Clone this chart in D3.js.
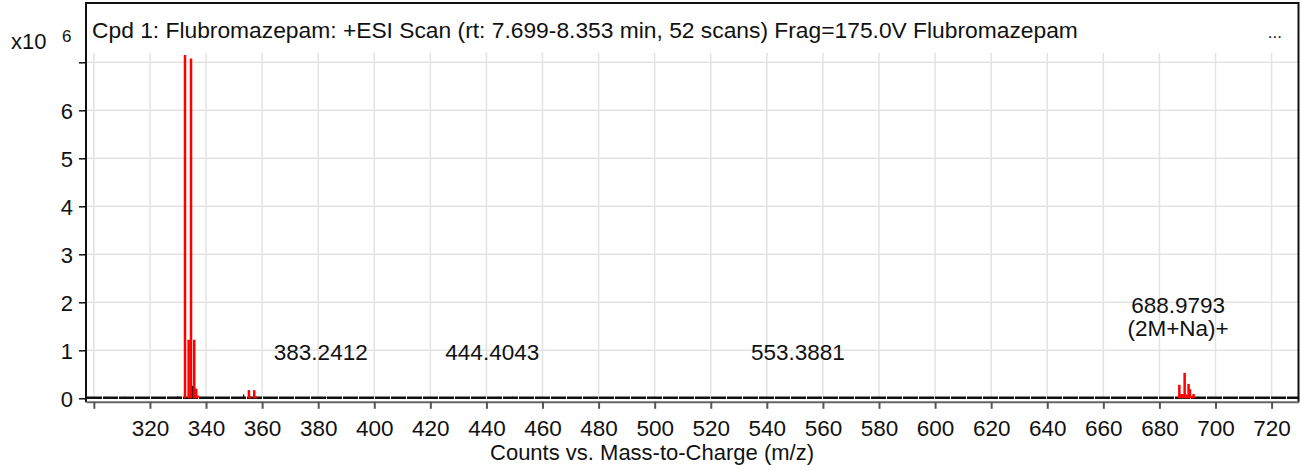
<!DOCTYPE html>
<html>
<head>
<meta charset="utf-8">
<script src="https://cdn.jsdelivr.net/npm/d3@7"></script>
<style>
  body { margin: 0; background: #fff; }
  text { font-family: "Liberation Sans", Arial, sans-serif; fill: #111; }
</style>
</head>
<body>
<div id="chart"></div>
<script>
// Tick values
const xTickValues = [300, 320, 340, 360, 380, 400, 420, 440, 460, 480, 500, 520, 540, 560, 580, 600, 620, 640, 660, 680, 700, 720];
const yTickValues = [0, 1, 2, 3, 4, 5, 6, 7];
const yTickLabels = ["0", "1", "2", "3", "4", "5", "6", ""];

// Red peaks (m/z, counts)
const redMz = [332.5, 333.8, 334.65, 335.8, 336.5, 337.0, 355.3, 355.8, 357.2, 357.7,
               687.1, 687.6, 688.3, 689.0, 689.6, 690.4, 690.9, 691.5, 692.2];
const redCounts = [7150000, 1220000, 7080000, 1220000, 200000, 60000, 170000, 40000, 170000, 40000,
                   280000, 90000, 90000, 530000, 80000, 300000, 190000, 50000, 90000];

// Black sticks (noise and small peaks)
const blackMz = [304.3, 311.0, 316.0, 322.0, 327.0, 329.8, 331.0, 335.2, 337.8, 341.0, 353.4,
                 383.2, 420.0, 444.2, 449.4, 480.0, 520.0, 553.4, 600.0, 640.0, 693.9];
const blackCounts = [30000, 30000, 20000, 20000, 30000, 40000, 30000, 260000, 30000, 20000, 80000,
                     25000, 15000, 30000, 30000, 15000, 15000, 20000, 15000, 15000, 30000];

// Peak annotations
const annMz = [383.2412, 444.4043, 553.3881, 688.9793];
const annCounts = [20000, 20000, 20000, 530000];
const annText = [["383.2412"], ["444.4043"], ["553.3881"], ["688.9793", "(2M+Na)+"]];

const title = "Cpd 1: Flubromazepam: +ESI Scan (rt: 7.699-8.353 min, 52 scans) Frag=175.0V Flubromazepam";

const width = 1301, height = 470;
const plotLeft = 86, plotRight = 1298.5, frameTop = 3, plotTop = 52.7, plotBottom = 398.3;
const font = '"Liberation Sans", Arial, sans-serif';

const svg = d3.select("#chart")
    .append("svg")
    .attr("width", width)
    .attr("height", height);

const x = d3.scaleLinear().domain([297.2, 729.6]).range([plotLeft, plotRight]);
const y = d3.scaleLinear().domain([0, 7200000]).range([plotBottom, plotTop]);

// Gridlines
svg.append("g")
    .selectAll("line")
    .data(xTickValues)
    .join("line")
    .attr("x1", d => x(d)).attr("x2", d => x(d))
    .attr("y1", plotTop).attr("y2", plotBottom)
    .attr("stroke", "#e3e3e3").attr("stroke-width", 1.5);

svg.append("g")
    .selectAll("line")
    .data(yTickValues.slice(1))
    .join("line")
    .attr("x1", plotLeft).attr("x2", plotRight)
    .attr("y1", d => y(d * 1e6)).attr("y2", d => y(d * 1e6))
    .attr("stroke", "#e3e3e3").attr("stroke-width", 1.5);

// Frame
svg.append("path")
    .attr("d", `M${plotLeft},${plotBottom + 4}V${frameTop}H${plotRight}V${plotBottom + 4}`)
    .attr("fill", "none").attr("stroke", "#111").attr("stroke-width", 2);

// X axis (offset below the zero line)
const xAxis = svg.append("g")
    .attr("transform", `translate(0,${plotBottom + 3.5})`)
    .call(d3.axisBottom(x).tickValues(xTickValues).tickSize(7).tickSizeOuter(0)
        .tickFormat(d => d === 300 ? "" : d));
xAxis.select(".domain").attr("stroke", "#666").attr("stroke-width", 2);
xAxis.selectAll(".tick line").attr("stroke", "#555").attr("stroke-width", 2);
xAxis.selectAll(".tick text")
    .attr("y", 34).attr("dy", 0)
    .style("font-size", "22.5px")
    .style("font-family", font)
    .attr("fill", "#111");

// Y axis
const yAxis = svg.append("g")
    .attr("transform", `translate(${plotLeft},0)`)
    .call(d3.axisLeft(y).tickValues(yTickValues.map(d => d * 1e6)).tickSize(7).tickSizeOuter(0)
        .tickFormat((d, i) => yTickLabels[i]));
yAxis.select(".domain").remove();
yAxis.selectAll(".tick line").attr("stroke", "#111").attr("stroke-width", 1.5);
yAxis.selectAll(".tick text")
    .attr("x", -13).attr("dy", "0.36em")
    .style("font-size", "22px")
    .style("font-family", font)
    .attr("fill", "#111");

// Baseline noise
svg.append("line")
    .attr("x1", plotLeft + 1).attr("x2", plotRight)
    .attr("y1", y(0) - 0.5).attr("y2", y(0) - 0.5)
    .attr("stroke", "#111").attr("stroke-width", 2.5)
    .attr("stroke-dasharray", "15,1");

// Black sticks
svg.append("g")
    .selectAll("line")
    .data(blackMz)
    .join("line")
    .attr("x1", d => x(d)).attr("x2", d => x(d))
    .attr("y1", y(0)).attr("y2", (d, i) => y(blackCounts[i]))
    .attr("stroke", "#111").attr("stroke-width", 1.2);

// Red peaks
svg.append("g")
    .selectAll("line")
    .data(redMz)
    .join("line")
    .attr("x1", d => x(d)).attr("x2", d => x(d))
    .attr("y1", y(0)).attr("y2", (d, i) => y(redCounts[i]))
    .attr("stroke", "#ff0000").attr("stroke-width", 2.5);

// Annotations
annMz.forEach((mz, i) => {
    const lines = annText[i];
    const baseY = y(annCounts[i]) - 37;
    const t = svg.append("text")
        .attr("text-anchor", "middle")
        .style("font-size", "22.5px");
    lines.forEach((s, j) => {
        t.append("tspan")
            .attr("x", x(mz) - 6.5)
            .attr("y", baseY - (lines.length - 1 - j) * 23)
            .text(s);
    });
});

// Title
svg.append("text")
    .attr("x", 92).attr("y", 38)
    .style("font-size", "22.8px")
    .text(title);

svg.append("text")
    .attr("x", 1282).attr("y", 38)
    .attr("text-anchor", "end")
    .style("font-size", "17px")
    .text("...");

// Scale factor
svg.append("text")
    .attr("x", 11).attr("y", 49)
    .style("font-size", "22px")
    .text("x10");
svg.append("text")
    .attr("x", 62).attr("y", 42)
    .style("font-size", "17px")
    .text("6");

// Axis title
svg.append("text")
    .attr("x", 652).attr("y", 460)
    .attr("text-anchor", "middle")
    .style("font-size", "22px")
    .text("Counts vs. Mass-to-Charge (m/z)");
</script>
</body>
</html>
